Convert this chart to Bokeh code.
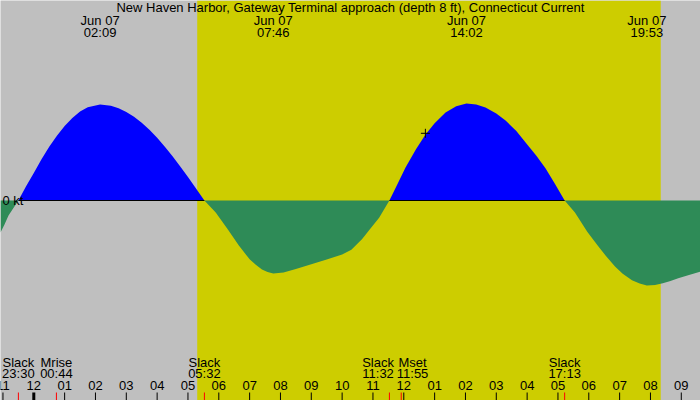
import numpy as np
from bokeh.plotting import figure
from bokeh.models import Range1d
from bokeh.core.properties import value
from bokeh.embed import file_html
from bokeh.resources import INLINE

# ---------------- data ----------------
title_text = "New Haven Harbor, Gateway Terminal approach (depth 8 ft), Connecticut Current"
date_label = "Jun 07"
zero_label = "0 kt"

# tidal current: hours after 00:00 Jun 07, knots (+ flood, - ebb)
current_hours = [-1.08, -0.95, -0.82, -0.5, -0.25, 0.0, 0.25, 0.5, 0.75, 1.0, 1.25, 1.5, 1.75,
                 2.15, 2.5, 2.75, 3.0, 3.25, 3.5, 3.75, 4.0, 4.25, 4.5, 4.75, 5.0, 5.25, 5.533,
                 5.9, 6.3, 6.65, 7.0, 7.2, 7.4, 7.58, 7.767, 8.1, 8.5, 9.0, 9.5, 10.0, 10.3, 10.65, 10.9,
                 11.2, 11.533, 11.8, 12.056, 12.4, 12.705, 13.0, 13.354, 13.7, 14.033, 14.35,
                 14.65, 15.0, 15.3, 15.65, 15.95, 16.3, 16.6, 16.9, 17.217, 17.55, 17.95, 18.3,
                 18.55, 18.85, 19.1, 19.4, 19.65, 19.883, 20.15, 20.4, 20.65, 20.9, 21.25, 21.625]
current_knots = [-0.133, -0.10, -0.063, 0.0, 0.059, 0.115, 0.172, 0.224, 0.27, 0.31, 0.344, 0.371,
                 0.389, 0.40, 0.395, 0.384, 0.369, 0.349, 0.324, 0.295, 0.261, 0.224, 0.184,
                 0.142, 0.098, 0.052, 0.0, -0.05, -0.122, -0.188, -0.245, -0.268, -0.287, -0.298, -0.304,
                 -0.300, -0.285, -0.266, -0.246, -0.225, -0.205, -0.16, -0.12, -0.072, 0.0,
                 0.07, 0.1375, 0.215, 0.275, 0.322, 0.367, 0.393, 0.404, 0.400, 0.3875, 0.362,
                 0.333, 0.29, 0.242, 0.186, 0.133, 0.07, 0.0, -0.05, -0.13, -0.19, -0.23,
                 -0.275, -0.305, -0.332, -0.346, -0.354, -0.352, -0.345, -0.335, -0.324,
                 -0.31, -0.296]

extreme_times = ["02:09", "07:46", "14:02", "19:53"]

event_names = ["Slack", "Mrise", "Slack", "Slack", "Mset", "Slack"]
event_times = ["23:30", "00:44", "05:32", "11:32", "11:55", "17:13"]
event_prev_day = [True, False, False, False, False, False]

sunrise = "05:18"
sunset = "20:20"

hour_ticks = list(range(-1, 22))
hour_labels = ["11", "12", "01", "02", "03", "04", "05", "06", "07", "08", "09", "10", "11",
               "12", "01", "02", "03", "04", "05", "06", "07", "08", "09"]

now_time = "12:42"
now_knots = 0.28

# ---------------- layout / style ----------------
W, H = 700, 400
PX_PER_HOUR = 30.833
PX_PER_KT = 240.0
X0 = -1.08
ZERO_PX = 200.0
TXT_SHIFT = 4.5
FONT = value("Liberation Sans")
FS = "13px"
NIGHT = "#bfbfbf"
DAY = "#cdcd00"
FLOOD = "#0000ff"
EBB = "#2e8b57"


def hours(s, prev=False):
    h, m = s.split(":")
    return int(h) + int(m) / 60.0 - (24 if prev else 0)


def ky(py):  # screen px from top -> knots
    return (ZERO_PX - py) / PX_PER_KT


def ty(py):  # text baseline px -> knots
    return ky(py - TXT_SHIFT)


t = np.array(current_hours)
k = np.array(current_knots)
assert len(t) == len(k)

p = figure(width=W, height=H, output_backend="svg", toolbar_location=None,
           x_range=Range1d(X0, X0 + W / PX_PER_HOUR), y_range=Range1d(ky(H), ky(0)),
           x_axis_location=None, y_axis_location=None, min_border=0,
           background_fill_color=NIGHT, border_fill_color=NIGHT, outline_line_color=None)
p.grid.visible = False

# daylight band
p.quad(left=[hours(sunrise)], right=[hours(sunset)], bottom=[ky(H)], top=[ky(0)],
       fill_color=DAY, line_color=None)

# current fills
p.varea(x=t, y1=np.zeros_like(k), y2=np.maximum(k, 0), fill_color=FLOOD)
p.varea(x=t, y1=np.minimum(k, 0), y2=np.zeros_like(k), fill_color=EBB)

# zero line under flood periods
slack_h = sorted(hours(tt, pd) for n, tt, pd in zip(event_names, event_times, event_prev_day) if n == "Slack")
seg_x0, seg_x1 = [], []
for a, b in zip(slack_h[:-1], slack_h[1:]):
    if np.interp((a + b) / 2, t, k) > 0:
        seg_x0.append(a)
        seg_x1.append(b)
p.segment(x0=seg_x0, y0=[0] * len(seg_x0), x1=seg_x1, y1=[0] * len(seg_x0),
          line_color="black", line_width=1)

# title
p.text(x=[X0 + (W / 2) / PX_PER_HOUR], y=[ty(11)], text=[title_text], text_font=FONT,
       text_font_size=FS, text_align="center", text_baseline="alphabetic", text_color="black")

# extremes labels
ex_h = [hours(s) for s in extreme_times]
p.text(x=ex_h, y=[ty(24)] * len(ex_h), text=[date_label] * len(ex_h), text_font=FONT,
       text_font_size=FS, text_align="center", text_baseline="alphabetic")
p.text(x=ex_h, y=[ty(36)] * len(ex_h), text=extreme_times, text_font=FONT,
       text_font_size=FS, text_align="center", text_baseline="alphabetic")

# zero label
p.text(x=[X0 + 2 / PX_PER_HOUR], y=[ty(204)], text=[zero_label], text_font=FONT,
       text_font_size=FS, text_align="left", text_baseline="alphabetic")

# hour ticks and labels
tick_w = [3 if h == 0 else 1 for h in hour_ticks]
p.segment(x0=hour_ticks, x1=hour_ticks, y0=[ky(392)] * len(hour_ticks), y1=[ky(H)] * len(hour_ticks),
          line_color="black", line_width=tick_w)
p.text(x=hour_ticks, y=[ty(389.5)] * len(hour_ticks), text=hour_labels, text_font=FONT,
       text_font_size=FS, text_align="center", text_baseline="alphabetic")

# event ticks and labels
ev_h = [hours(s, pd) for s, pd in zip(event_times, event_prev_day)]
p.segment(x0=ev_h, x1=ev_h, y0=[ky(392)] * len(ev_h), y1=[ky(H)] * len(ev_h),
          line_color="#ff0000", line_width=1)
lab_h = list(ev_h)
min_gap = 34.5 / PX_PER_HOUR
for i in range(len(lab_h) - 1):
    if lab_h[i + 1] - lab_h[i] < min_gap:
        mid = (lab_h[i] + lab_h[i + 1]) / 2
        lab_h[i] = mid - min_gap / 2
        lab_h[i + 1] = mid + min_gap / 2
p.text(x=lab_h, y=[ty(366)] * len(lab_h), text=event_names, text_font=FONT,
       text_font_size=FS, text_align="center", text_baseline="alphabetic")
p.text(x=lab_h, y=[ty(377.7)] * len(lab_h), text=event_times, text_font=FONT,
       text_font_size=FS, text_align="center", text_baseline="alphabetic")

# current-time marker
p.scatter(x=[hours(now_time)], y=[now_knots], marker="cross", size=9,
          line_color="black", line_width=1)

open("out.html", "w").write(file_html(p, INLINE))
